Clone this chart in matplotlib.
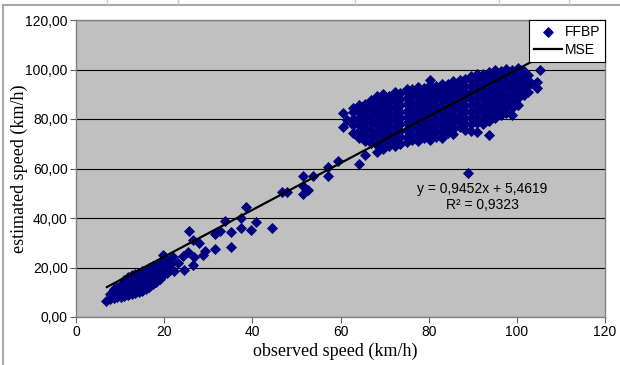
import numpy as np
import matplotlib.pyplot as plt
from matplotlib.ticker import FuncFormatter
from matplotlib.lines import Line2D

# low speeds: one observed value per column, estimated values in that column
low_obs = [6.8, 7.8, 8.6, 9.4, 10.2, 11.0, 11.8, 12.6, 13.4, 14.2, 15.0,
           15.8, 16.6, 17.4, 18.2, 19.0, 19.8, 20.6, 21.4]
low_est = [[6.5], [7.2, 9.3], [7.6, 9.8, 11.4], [8.0, 10.2, 12.3],
           [8.2, 10.6, 13.0], [8.5, 11.0, 13.6, 15.0], [8.9, 11.4, 14.0, 16.2],
           [9.2, 11.8, 14.4, 16.8], [9.6, 12.2, 14.8, 17.4], [10.0, 12.6, 15.2, 17.8],
           [10.6, 13.1, 15.7, 18.4], [11.3, 13.8, 16.3, 19.0], [12.2, 14.6, 17.0, 19.6],
           [13.2, 15.5, 17.9, 20.5], [14.2, 16.5, 18.8, 21.2], [15.4, 17.6, 19.8, 22.0],
           [16.8, 19.0, 21.0, 25.0], [17.8, 20.4, 22.5], [19.0, 21.6, 23.4]]

# scattered points between the two clusters
mid_obs = [22.1, 22.3, 23.2, 24.3, 24.4, 25.4, 25.7, 26.5, 26.8, 26.6,
           27.9, 28.8, 29.3, 31.5, 31.5, 32.7, 33.8, 35.1, 35.1, 37.4,
           37.4, 38.6, 39.7, 40.8, 44.4, 46.7, 47.8, 51.4, 51.6, 52.7,
           51.4, 53.7, 57.2, 57.2, 59.5]
mid_est = [24.2, 18.4, 21.8, 24.6, 18.8, 26.3, 34.8, 21.0, 24.2, 31.0,
           29.8, 25.0, 26.7, 27.5, 33.4, 34.9, 38.9, 34.2, 28.2, 39.9,
           35.8, 44.3, 35.3, 38.3, 36.1, 50.6, 50.6, 49.7, 52.9, 51.3,
           57.1, 57.1, 57.1, 60.5, 63.2]

# high speeds cluster, same column layout as the low one
high_obs = [60.6, 61.5, 62.8, 64.2, 65.6, 67.0, 68.3, 69.6, 71.0, 72.3, 73.6,
            75.0, 76.3, 77.6, 79.0, 80.3, 81.6, 83.0, 84.3, 85.6, 87.0, 88.3,
            89.0, 89.6, 91.0, 92.3, 93.6, 95.0, 96.3, 97.6, 99.0, 100.3, 101.6,
            102.5, 103.3, 104.6, 105.3]
high_est = [[76.8, 82.4], [79.5], [74.4, 77.5, 80.2, 82.8, 84.6],
            [61.8, 72.3, 75.0, 77.8, 80.5, 83.0, 85.5],
            [65.4, 71.0, 73.6, 76.2, 78.9, 81.4, 84.0, 86.2],
            [70.2, 73.0, 75.5, 78.2, 80.8, 83.3, 85.8, 87.5],
            [66.7, 69.6, 72.2, 74.8, 77.4, 80.0, 82.6, 85.0, 87.4, 89.4],
            [67.8, 70.5, 73.1, 75.7, 78.3, 80.9, 83.4, 86.0, 88.4, 90.2],
            [69.2, 71.8, 74.4, 77.0, 79.6, 82.1, 84.7, 87.2, 89.3],
            [68.9, 71.2, 73.8, 76.4, 79.0, 81.6, 84.1, 86.7, 89.1, 91.0],
            [70.1, 72.6, 75.2, 77.8, 80.4, 83.0, 85.5, 88.0, 90.4],
            [70.6, 72.9, 75.6, 78.2, 80.8, 83.4, 86.0, 88.5, 91.0, 92.3],
            [71.5, 74.1, 76.7, 79.3, 81.9, 84.5, 87.0, 89.6, 92.0],
            [71.0, 73.4, 76.0, 78.6, 81.2, 83.8, 86.4, 88.9, 91.4, 93.0],
            [72.3, 74.9, 77.5, 80.1, 82.7, 85.3, 87.9, 90.4, 92.6],
            [71.6, 73.8, 76.4, 79.0, 81.6, 84.2, 86.8, 89.4, 92.0, 93.9, 95.8],
            [72.8, 75.3, 77.9, 80.5, 83.1, 85.7, 88.3, 90.8, 93.3],
            [72.5, 74.6, 77.2, 79.8, 82.4, 85.0, 87.6, 90.2, 92.7, 94.3],
            [74.3, 76.4, 78.9, 81.5, 84.1, 86.7, 89.3, 91.8, 94.0],
            [74.0, 75.8, 78.3, 80.9, 83.5, 86.1, 88.7, 91.3, 93.8, 95.2],
            [76.8, 79.5, 82.1, 84.7, 87.3, 89.9, 92.5, 95.0, 95.8],
            [75.5, 78.0, 80.6, 83.2, 85.8, 88.4, 91.0, 93.5, 96.0],
            [58.2],
            [75.2, 77.8, 80.4, 83.0, 85.6, 88.2, 90.8, 93.3, 95.7, 97.3],
            [74.7, 78.4, 81.0, 83.6, 86.2, 88.8, 91.4, 93.9, 96.4, 98.0],
            [78.0, 80.2, 82.8, 85.4, 88.0, 90.6, 93.2, 95.7, 98.2],
            [73.5, 79.2, 81.7, 84.3, 86.9, 89.5, 92.1, 94.7, 97.2, 99.0],
            [80.3, 82.8, 85.4, 88.0, 90.6, 93.2, 95.8, 98.3, 99.8],
            [81.6, 84.0, 86.6, 89.2, 91.8, 94.4, 97.0, 99.4],
            [82.5, 85.1, 87.7, 90.3, 92.9, 95.5, 98.0, 100.2],
            [81.6, 84.4, 86.9, 89.5, 92.1, 94.7, 97.3, 99.6],
            [85.8, 88.3, 90.9, 93.5, 96.1, 98.6, 100.6],
            [89.7, 92.3, 94.9, 97.4, 99.2],
            [91.0, 93.6, 97.8], [94.5], [92.5, 95.0], [99.8]]

# linear trendline (label MSE)
trend_slope = 0.9452
trend_intercept = 5.4619
trend_r2 = 0.9323
trend_x = [7.0, 103.0]


def expand(cols, vals):
    xs, ys = [], []
    for c, v in zip(cols, vals):
        for y in v:
            xs.append(c)
            ys.append(y)
    return xs, ys


lx, ly = expand(low_obs, low_est)
hx, hy = expand(high_obs, high_est)
obs = np.array(lx + mid_obs + hx)
est = np.array(ly + mid_est + hy)

sans = 'Liberation Sans'
serif = 'Liberation Serif'

fig = plt.figure(figsize=(6.2, 3.65), dpi=100)
ax = fig.add_axes([76 / 620, 1 - 317 / 365, 529 / 620, 297 / 365])
ax.set_facecolor('#c0c0c0')

ax.scatter(obs, est, marker='D', s=32, color='#000080', linewidths=0,
           label='FFBP', zorder=3)
tx = np.array(trend_x)
ax.plot(tx, trend_slope * tx + trend_intercept, color='black', lw=1.6,
        label='MSE', zorder=4)

ax.set_xlim(0, 120)
ax.set_ylim(0, 120)
ax.set_xticks(np.arange(0, 121, 20))
ax.set_yticks(np.arange(0, 121, 20))
ax.yaxis.set_major_formatter(FuncFormatter(lambda v, p: f"{v:.2f}".replace('.', ',')))
ax.grid(axis='y', color='black', lw=0.8)
ax.set_axisbelow(True)
ax.tick_params(direction='out', length=4, width=0.8, color='#606060',
               labelsize=10, pad=2)
for lab in ax.get_xticklabels() + ax.get_yticklabels():
    lab.set_fontfamily(sans)
for s in ax.spines.values():
    s.set_color('#808080')
    s.set_linewidth(1.0)

ax.set_xlabel('observed speed (km/h)', fontsize=13, family=serif)
ax.set_ylabel('estimated speed (km/h)', fontsize=13, family=serif)
ax.xaxis.set_label_coords(0.49, -0.085)
ax.yaxis.set_label_coords(-0.091, 0.5)

ax.text(92.1, 48.5, f"y = 0,9452x + 5,4619\nR² = {trend_r2:.4f}".replace('0.', '0,'),
        ha='center', va='center', fontsize=10, family=sans, linespacing=1.15,
        multialignment='center', zorder=5)

leg = ax.legend(loc='upper right', bbox_to_anchor=(1.0, 1.0), borderaxespad=0,
                frameon=True, fancybox=False, framealpha=1, edgecolor='black',
                prop={'family': sans, 'size': 10}, handlelength=2.0,
                handletextpad=0.2, borderpad=0.35, labelspacing=0.3,
                scatterpoints=1)
leg.get_frame().set_linewidth(0.8)
leg.set_zorder(6)

# outer sheet frame
fig.add_artist(Line2D([3 / 620, 1], [1 - 5 / 365, 1 - 5 / 365], color='#a8a8a8', lw=1.5))
fig.add_artist(Line2D([3 / 620, 3 / 620], [0, 1 - 5 / 365], color='#a8a8a8', lw=1.5))
for px in [107, 178, 355, 499, 569]:
    fig.add_artist(Line2D([px / 620, px / 620], [1 - 4 / 365, 1], color='#c8c8c8', lw=1))

fig.savefig('out.png', dpi=100)
